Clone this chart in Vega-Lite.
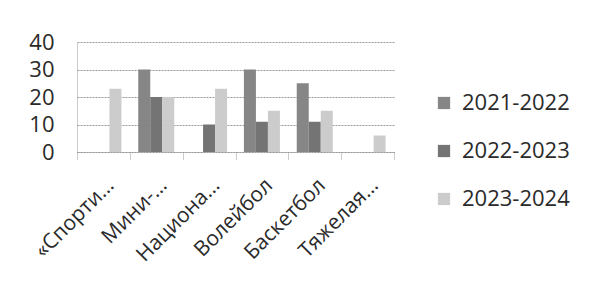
{
  "$schema": "https://vega.github.io/schema/vega-lite/v6.json",
  "autosize": "none",
  "width": 317,
  "height": 110,
  "padding": {"left": 77, "top": 42, "right": 204, "bottom": 135},
  "background": "#ffffff",
  "config": {
    "view": {"stroke": null},
    "font": "Open Sans",
    "axis": {"labelColor": "#2a2a2a", "labelFont": "Open Sans"},
    "legend": {"labelFont": "Open Sans"}
  },
  "data": {
    "values": [
      {"category": "«Спорти…", "series": "2021-2022", "value": 0},
      {"category": "«Спорти…", "series": "2022-2023", "value": 0},
      {"category": "«Спорти…", "series": "2023-2024", "value": 23},
      {"category": "Мини-…", "series": "2021-2022", "value": 30},
      {"category": "Мини-…", "series": "2022-2023", "value": 20},
      {"category": "Мини-…", "series": "2023-2024", "value": 20},
      {"category": "Национа…", "series": "2021-2022", "value": 0},
      {"category": "Национа…", "series": "2022-2023", "value": 10},
      {"category": "Национа…", "series": "2023-2024", "value": 23},
      {"category": "Волейбол", "series": "2021-2022", "value": 30},
      {"category": "Волейбол", "series": "2022-2023", "value": 11},
      {"category": "Волейбол", "series": "2023-2024", "value": 15},
      {"category": "Баскетбол", "series": "2021-2022", "value": 25},
      {"category": "Баскетбол", "series": "2022-2023", "value": 11},
      {"category": "Баскетбол", "series": "2023-2024", "value": 15},
      {"category": "Тяжелая…", "series": "2021-2022", "value": 0},
      {"category": "Тяжелая…", "series": "2022-2023", "value": 0},
      {"category": "Тяжелая…", "series": "2023-2024", "value": 6}
    ]
  },
  "mark": {"type": "bar"},
  "encoding": {
    "x": {
      "field": "category",
      "type": "nominal",
      "sort": null,
      "title": null,
      "scale": {"paddingInner": 0, "paddingOuter": 0},
      "axis": {
        "tickBand": "extent",
        "labelAngle": -45,
        "labelAlign": "right",
        "labelBaseline": "middle",
        "labelFontSize": 21,
        "labelPadding": 22,
        "labelOffset": 7,
        "tickSize": 8,
        "tickColor": "#999999",
        "tickDash": [1, 1],
        "domainColor": "#999999",
        "domainDash": [1, 1],
        "labelOverlap": false
      }
    },
    "xOffset": {
      "field": "series",
      "type": "nominal",
      "scale": {"paddingInner": 0, "paddingOuter": 0.7}
    },
    "y": {
      "field": "value",
      "type": "quantitative",
      "title": null,
      "scale": {"domain": [0, 40], "nice": false},
      "axis": {
        "values": [0, 10, 20, 30, 40],
        "ticks": false,
        "labelFontSize": 22,
        "labelPadding": 23,
        "domainColor": "#999999",
        "domainDash": [1, 1],
        "gridColor": "#9a9a9a",
        "gridDash": [2, 1]
      }
    },
    "color": {
      "field": "series",
      "type": "nominal",
      "title": null,
      "scale": {
        "domain": ["2021-2022", "2022-2023", "2023-2024"],
        "range": ["#868686", "#747474", "#cccccc"]
      },
      "legend": {
        "orient": "none",
        "legendX": 356,
        "legendY": 50,
        "symbolType": "square",
        "symbolSize": 150,
        "labelFontSize": 22,
        "labelColor": "#2a2a2a",
        "labelOffset": 7,
        "rowPadding": 26
      }
    }
  }
}
